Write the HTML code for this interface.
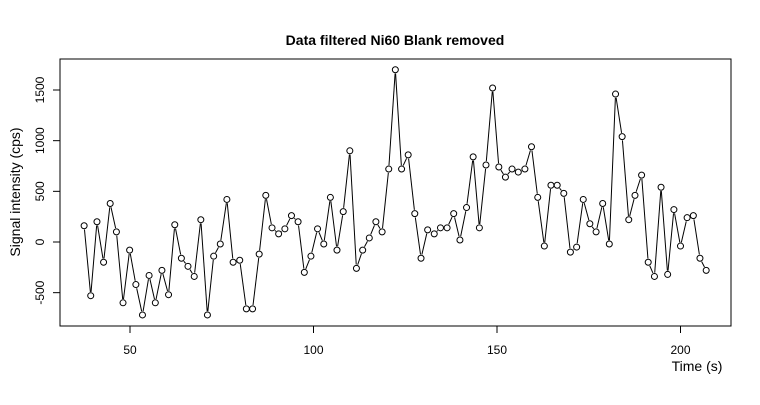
<!DOCTYPE html>
<html><head><meta charset="utf-8"><style>
body{margin:0;background:#fff}
svg text{font-family:"Liberation Sans",sans-serif;fill:#000}
</style></head><body>
<svg id="chart" width="760" height="400">
<text x="395" y="45" font-size="14" font-weight="bold" text-anchor="middle">Data filtered Ni60 Blank removed</text>
<rect x="60" y="59" width="671" height="267" fill="none" stroke="#000"/>
<text x="697" y="371" font-size="14" text-anchor="middle">Time (s)</text>
<text transform="translate(20,192) rotate(-90)" font-size="14" text-anchor="middle">Signal intensity (cps)</text>
<g id="axes"></g><g id="series"></g>
</svg>
<script>
const times=[37.5,39.3,41.0,42.8,44.6,46.3,48.1,49.9,51.6,53.4,55.2,56.9,58.7,60.5,62.2,64.0,65.8,67.5,69.3,71.1,72.8,74.6,76.4,78.1,79.9,81.7,83.4,85.2,87.0,88.7,90.5,92.2,94.0,95.8,97.5,99.3,101.1,102.8,104.6,106.4,108.1,109.9,111.7,113.4,115.2,117.0,118.7,120.5,122.3,124.0,125.8,127.6,129.3,131.1,132.9,134.6,136.4,138.2,139.9,141.7,143.5,145.2,147.0,148.8,150.5,152.3,154.1,155.8,157.6,159.4,161.1,162.9,164.7,166.4,168.2,170.0,171.7,173.5,175.3,177.0,178.8,180.6,182.3,184.1,185.9,187.6,189.4,191.2,192.9,194.7,196.5,198.2,200.0,201.8,203.5,205.3,207.0];
const signal=[160,-530,200,-200,380,100,-600,-80,-420,-720,-330,-600,-280,-520,170,-160,-240,-340,220,-720,-140,-20,420,-200,-180,-660,-660,-120,460,140,80,130,260,200,-300,-140,130,-20,440,-80,300,900,-260,-80,40,200,100,720,1700,720,860,280,-160,120,80,140,140,280,20,340,840,140,760,1520,740,640,720,690,720,940,440,-40,560,560,480,-100,-50,420,180,100,380,-20,1460,1040,220,460,660,-200,-340,540,-320,320,-40,240,260,-160,-280];
const xTicks=[50,100,150,200];
const yTicks=[-500,0,500,1000,1500];
const NS='http://www.w3.org/2000/svg';
const xs=v=>130+(v-50)*3.67;
const ys=v=>242-v*0.10133;
function mk(t,a,p){const e=document.createElementNS(NS,t);for(const k in a)e.setAttribute(k,a[k]);p.appendChild(e);return e;}
const ax=document.getElementById('axes'),se=document.getElementById('series');
mk('line',{x1:xs(50),x2:xs(200),y1:326,y2:326,stroke:'#000'},ax);
xTicks.forEach(v=>{
 const l=mk('line',{x1:xs(v),x2:xs(v),y1:326,y2:333,stroke:'#000'},ax);
 
 
 const t=mk('text',{x:xs(v),y:354,'font-size':12,'text-anchor':'middle'},ax);t.textContent=v;
 
 
});
mk('line',{x1:60,x2:60,y1:ys(-500),y2:ys(1500),stroke:'#000'},ax);
yTicks.forEach(v=>{
 const l=mk('line',{x1:53,x2:60,y1:ys(v),y2:ys(v),stroke:'#000'},ax);
 
 
 const t=mk('text',{transform:`translate(44,${ys(v)}) rotate(-90)`,'font-size':12,'text-anchor':'middle'},ax);t.textContent=v;
 
 
});
// line segments with gaps around points
for(let i=0;i<times.length-1;i++){
 const x1=xs(times[i]),y1=ys(signal[i]),x2=xs(times[i+1]),y2=ys(signal[i+1]);
 const d=Math.hypot(x2-x1,y2-y1);if(d<8)continue;
 const ux=(x2-x1)/d,uy=(y2-y1)/d,g=3.8;
 const l=mk('line',{x1:x1+ux*g,y1:y1+uy*g,x2:x2-ux*g,y2:y2-uy*g,stroke:'#000','stroke-width':1},se);
 
 
}
times.forEach((t,i)=>{
 const c=mk('circle',{cx:xs(t),cy:ys(signal[i]),r:3,fill:'none',stroke:'#000','stroke-width':1},se);
 
 
});
</script>
</body></html>
